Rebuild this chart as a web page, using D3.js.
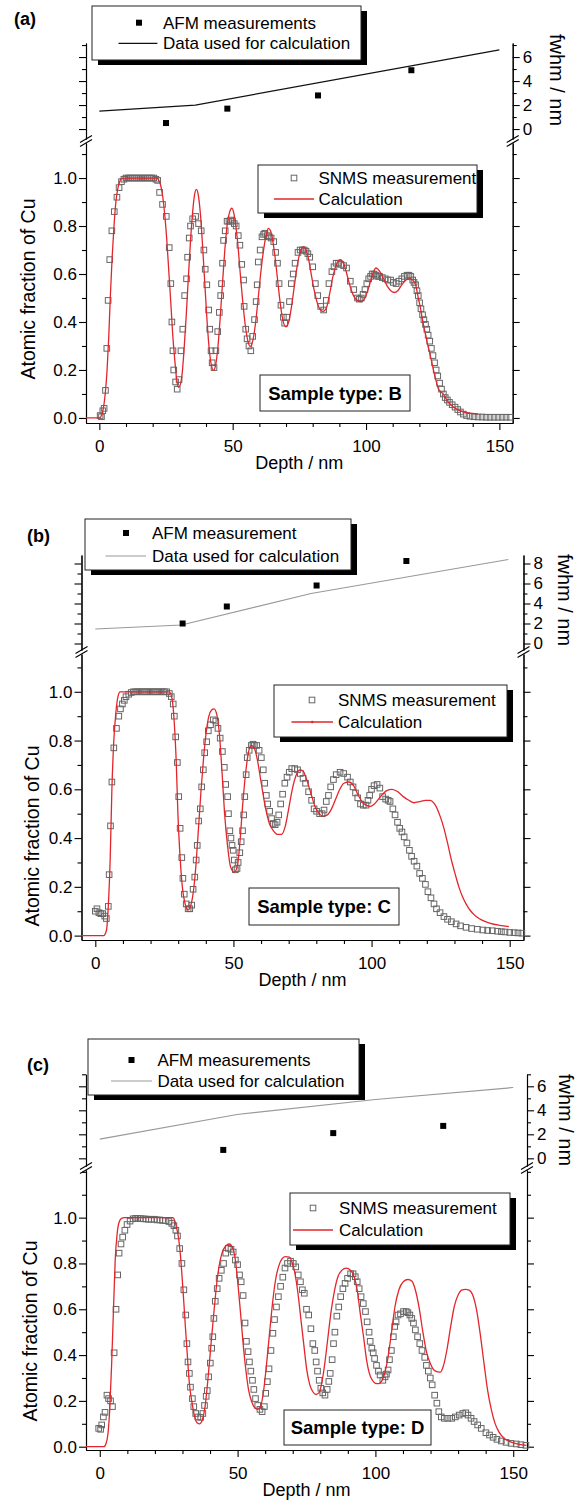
<!DOCTYPE html>
<html>
<head>
<meta charset="utf-8">
<script src="https://cdn.jsdelivr.net/npm/d3@7"></script>
<style>
  body { margin: 0; background: #fff; }
  svg { display: block; font-family: 'Liberation Sans', Arial, sans-serif; }
</style>
</head>
<body>
<script>
// ---- data ----
// depth (nm) vs atomic fraction, SNMS measured squares
const snmsA = [[0.3,0.01],[0.8,0.005],[1.3,0.03],[1.8,0.04],[2.3,0.115],[2.8,0.29],[3.3,0.49],[3.9,0.66],[4.7,0.78],[5.6,0.86],[6.6,0.92],[7.4,0.96],[8.3,0.985],[9.2,0.995],[10.0,1.0],[10.8,1.0],[11.6,1.0],[12.4,1.0],[13.2,1.0],[14.0,1.0],[14.8,1.0],[15.6,1.0],[16.4,1.0],[17.2,1.0],[18.0,1.0],[18.8,1.0],[19.6,1.0],[20.4,1.0],[21.2,0.995],[21.9,0.99],[22.6,0.94],[23.7,0.89],[25.1,0.84],[26.2,0.71],[26.8,0.56],[27.2,0.40],[27.6,0.28],[27.9,0.20],[28.6,0.15],[29.2,0.12],[29.9,0.16],[30.6,0.28],[31.3,0.37],[32.0,0.51],[32.7,0.58],[33.1,0.67],[33.7,0.75],[34.2,0.80],[35.0,0.83],[36.1,0.84],[37.2,0.81],[38.2,0.78],[39.2,0.70],[39.7,0.62],[40.3,0.555],[41.0,0.45],[41.4,0.37],[41.9,0.28],[42.3,0.23],[43.0,0.21],[43.7,0.28],[44.4,0.36],[45.0,0.44],[45.5,0.51],[45.8,0.56],[46.2,0.645],[46.6,0.74],[47.2,0.78],[47.9,0.82],[48.6,0.82],[49.3,0.825],[49.9,0.82],[50.6,0.81],[51.3,0.80],[52.1,0.76],[52.7,0.72],[53.4,0.64],[54.1,0.575],[54.3,0.465],[54.9,0.37],[55.4,0.33],[56.1,0.30],[56.8,0.28],[57.5,0.34],[58.2,0.41],[58.8,0.485],[59.2,0.555],[59.6,0.65],[60.3,0.70],[61.0,0.755],[61.6,0.765],[62.1,0.77],[63.0,0.76],[63.7,0.755],[64.4,0.75],[65.4,0.735],[66.1,0.69],[66.8,0.645],[67.4,0.56],[68.1,0.47],[69.0,0.42],[69.5,0.395],[70.3,0.42],[71.3,0.485],[72.0,0.56],[72.7,0.60],[73.4,0.645],[74.5,0.69],[75.3,0.70],[76.1,0.70],[76.8,0.70],[77.5,0.695],[78.2,0.685],[78.9,0.67],[80.0,0.63],[81.0,0.56],[81.9,0.51],[83.0,0.465],[84.1,0.45],[85.1,0.49],[86.1,0.56],[87.2,0.61],[88.0,0.63],[88.8,0.645],[89.7,0.645],[90.6,0.64],[91.6,0.635],[92.7,0.625],[94.1,0.57],[95.4,0.535],[96.8,0.50],[97.5,0.495],[98.2,0.50],[98.9,0.515],[99.6,0.535],[100.3,0.56],[101.0,0.58],[101.7,0.59],[102.3,0.60],[103.0,0.60],[103.7,0.595],[104.4,0.59],[105.1,0.59],[106.1,0.585],[107.2,0.58],[108.2,0.575],[109.2,0.575],[110.2,0.565],[111.3,0.56],[112.3,0.57],[113.4,0.58],[114.4,0.59],[115.4,0.595],[116.1,0.595],[116.8,0.59],[117.5,0.575],[118.0,0.565],[118.6,0.555],[119.1,0.53],[119.6,0.51],[120.1,0.48],[120.6,0.455],[121.2,0.43],[121.7,0.41],[122.3,0.39],[122.8,0.37],[123.3,0.345],[123.9,0.32],[124.5,0.29],[125.1,0.26],[125.7,0.23],[126.3,0.20],[126.9,0.175],[127.6,0.145],[128.3,0.12],[129.0,0.10],[129.7,0.085],[130.5,0.075],[131.3,0.065],[132.3,0.055],[133.4,0.045],[134.4,0.035],[135.4,0.025],[136.5,0.016],[137.7,0.010],[139.0,0.007],[140.5,0.005],[142.0,0.004],[143.5,0.004],[145.0,0.003],[146.5,0.003],[148.0,0.003],[149.5,0.003],[151.0,0.003],[152.5,0.003],[154.0,0.003]];

const calcA = [[-5,0],[0,0],[0.8,0.01],[1.5,0.04],[2.2,0.10],[2.9,0.20],[3.5,0.33],[4.1,0.50],[4.8,0.67],[5.5,0.80],[6.2,0.90],[7.0,0.96],[7.8,0.99],[8.6,1.0],[21.5,1.0],[22.3,0.99],[23.0,0.97],[23.8,0.92],[24.5,0.85],[25.3,0.74],[26.0,0.62],[26.8,0.48],[27.5,0.35],[28.3,0.24],[29.0,0.16],[29.7,0.128],[30.4,0.14],[31.1,0.19],[31.8,0.29],[32.6,0.43],[33.4,0.59],[34.2,0.74],[35.0,0.86],[35.7,0.93],[36.4,0.953],[37.1,0.93],[37.9,0.85],[38.7,0.72],[39.5,0.57],[40.3,0.42],[41.1,0.30],[42.0,0.22],[42.8,0.198],[43.6,0.22],[44.5,0.30],[45.4,0.43],[46.3,0.58],[47.2,0.72],[48.0,0.81],[48.9,0.86],[49.7,0.874],[50.5,0.85],[51.3,0.79],[52.2,0.69],[53.0,0.58],[53.9,0.47],[54.8,0.38],[55.7,0.32],[56.6,0.298],[57.5,0.32],[58.4,0.38],[59.3,0.47],[60.2,0.57],[61.1,0.66],[62.0,0.73],[62.7,0.77],[63.4,0.79],[64.2,0.78],[65.0,0.74],[65.9,0.67],[66.8,0.58],[67.7,0.49],[68.6,0.42],[69.9,0.38],[71.0,0.40],[72.0,0.46],[73.0,0.54],[74.0,0.62],[75.0,0.68],[75.8,0.705],[76.6,0.714],[77.5,0.70],[78.5,0.66],[79.6,0.59],[80.8,0.52],[82.0,0.47],[83.9,0.444],[85.2,0.46],[86.4,0.52],[87.6,0.59],[88.9,0.64],[90.3,0.66],[91.6,0.645],[92.8,0.60],[94.0,0.55],[95.3,0.51],[96.7,0.49],[98.2,0.485],[99.6,0.50],[100.9,0.54],[102.2,0.59],[103.7,0.625],[105.2,0.61],[106.6,0.58],[108.2,0.545],[109.5,0.528],[110.6,0.523],[111.9,0.53],[113.4,0.555],[115.0,0.575],[116.4,0.58],[117.5,0.575],[118.6,0.555],[119.6,0.50],[120.3,0.465],[121.0,0.42],[121.7,0.38],[122.4,0.345],[123.0,0.31],[123.7,0.28],[124.4,0.245],[125.1,0.21],[125.8,0.175],[126.5,0.145],[127.2,0.12],[128.9,0.10],[130.6,0.07],[132.3,0.05],[134.0,0.037],[136.0,0.027],[138.2,0.021],[142.0,0.017]];

const snmsB = [[0.0,0.10],[0.6,0.11],[1.3,0.094],[2.0,0.09],[2.7,0.09],[3.4,0.08],[4.0,0.07],[4.7,0.12],[5.0,0.25],[5.5,0.45],[6.0,0.63],[6.7,0.77],[7.65,0.85],[8.5,0.90],[9.1,0.93],[9.8,0.95],[10.5,0.965],[11.1,0.98],[12.1,0.99],[13.0,0.997],[13.8,1.0],[14.6,1.0],[15.4,1.0],[16.2,1.0],[17.0,1.0],[17.8,1.0],[18.6,1.0],[19.4,1.0],[20.2,1.0],[21.0,1.0],[21.8,1.0],[22.6,1.0],[23.4,1.0],[24.2,1.0],[25.0,1.0],[25.8,1.0],[26.8,0.993],[27.5,0.98],[28.2,0.95],[28.6,0.90],[29.1,0.815],[29.7,0.71],[30.2,0.57],[30.7,0.44],[31.3,0.32],[31.7,0.235],[32.2,0.17],[32.9,0.13],[33.6,0.11],[34.2,0.11],[34.9,0.125],[35.4,0.19],[36.0,0.24],[36.5,0.31],[36.9,0.37],[37.4,0.47],[38.0,0.52],[38.5,0.61],[39.1,0.68],[39.6,0.75],[40.3,0.795],[40.9,0.84],[41.7,0.865],[42.7,0.885],[43.6,0.88],[44.4,0.85],[45.2,0.81],[46.0,0.755],[46.7,0.69],[47.2,0.62],[47.9,0.57],[48.2,0.50],[48.7,0.43],[49.1,0.40],[49.5,0.37],[49.9,0.35],[50.3,0.31],[50.7,0.27],[51.3,0.275],[51.7,0.30],[52.3,0.34],[52.8,0.385],[53.3,0.43],[53.7,0.495],[54.1,0.57],[54.6,0.66],[55.0,0.73],[55.7,0.76],[56.5,0.78],[57.1,0.785],[57.6,0.78],[58.4,0.78],[59.3,0.76],[60.1,0.73],[60.8,0.68],[61.3,0.625],[61.9,0.575],[62.4,0.54],[63.1,0.51],[63.8,0.48],[64.4,0.46],[65.1,0.455],[65.8,0.465],[66.4,0.495],[67.1,0.54],[67.8,0.58],[68.6,0.625],[69.4,0.65],[70.2,0.67],[71.1,0.685],[72.2,0.685],[73.2,0.68],[74.2,0.665],[75.2,0.645],[76.1,0.625],[77.2,0.59],[78.3,0.555],[79.2,0.52],[80.1,0.51],[81.2,0.50],[82.1,0.50],[82.8,0.515],[83.6,0.55],[84.4,0.575],[85.2,0.61],[86.2,0.64],[87.2,0.66],[88.6,0.67],[89.9,0.665],[91.3,0.65],[92.3,0.63],[93.3,0.61],[94.2,0.585],[95.0,0.565],[96.0,0.54],[97.0,0.535],[98.0,0.535],[98.7,0.555],[99.3,0.575],[100.0,0.60],[100.9,0.615],[102.0,0.62],[103.0,0.605],[104.0,0.57],[105.1,0.56],[106.0,0.555],[106.7,0.55],[107.7,0.52],[108.5,0.495],[109.4,0.465],[110.2,0.44],[111.0,0.425],[111.8,0.405],[112.8,0.38],[113.7,0.35],[114.5,0.325],[115.4,0.305],[116.4,0.285],[117.4,0.255],[118.4,0.235],[119.5,0.21],[120.4,0.18],[121.5,0.155],[122.6,0.13],[123.5,0.11],[124.8,0.094],[126.2,0.078],[127.5,0.067],[128.9,0.057],[130.6,0.048],[132.2,0.040],[134.2,0.034],[136.2,0.029],[138.3,0.026],[140.3,0.023],[142.0,0.021],[143.7,0.020],[145.6,0.018],[147.0,0.016],[148.3,0.015],[150.0,0.013],[151.6,0.012],[153.0,0.011],[154.4,0.010]];

const calcB = [[-5,0],[3.0,0],[4.0,0.02],[4.7,0.12],[5.4,0.32],[6.0,0.60],[6.7,0.80],[7.4,0.91],[8.2,0.98],[9.0,1.0],[26.8,1.0],[27.8,0.97],[28.6,0.87],[29.3,0.71],[29.9,0.50],[30.7,0.32],[31.5,0.20],[32.5,0.13],[33.6,0.105],[34.6,0.125],[35.6,0.19],[36.5,0.30],[37.4,0.45],[38.3,0.60],[39.2,0.73],[40.1,0.83],[41.1,0.90],[42.1,0.925],[43.0,0.93],[44.0,0.905],[45.0,0.815],[45.9,0.665],[46.8,0.50],[47.9,0.365],[49.0,0.28],[50.3,0.26],[51.5,0.29],[52.4,0.39],[53.3,0.53],[54.4,0.665],[55.4,0.75],[56.5,0.78],[57.5,0.77],[58.5,0.73],[60.0,0.63],[61.5,0.53],[63.0,0.46],[64.5,0.43],[66.0,0.415],[67.4,0.415],[68.8,0.45],[70.0,0.52],[71.3,0.60],[72.6,0.655],[74.0,0.68],[75.2,0.675],[76.5,0.64],[78.0,0.585],[79.5,0.53],[81.0,0.50],[82.5,0.49],[84.0,0.495],[85.5,0.52],[87.0,0.56],[88.5,0.60],[90.0,0.625],[91.9,0.63],[93.5,0.615],[95.0,0.58],[96.5,0.55],[98.0,0.535],[99.5,0.53],[101.0,0.54],[102.5,0.56],[104.0,0.58],[105.5,0.595],[107.4,0.60],[109.5,0.59],[111.5,0.57],[113.5,0.555],[115.4,0.545],[117.5,0.55],[119.5,0.555],[121.2,0.555],[122.8,0.54],[124.8,0.49],[126.2,0.44],[127.5,0.38],[128.9,0.31],[130.2,0.255],[131.6,0.20],[132.9,0.16],[134.2,0.13],[135.6,0.105],[137.2,0.085],[138.9,0.07],[141.0,0.058],[143.0,0.05],[146.4,0.042],[149.7,0.037]];

const snmsC = [[-0.4,0.08],[0.3,0.076],[0.7,0.095],[1.3,0.13],[1.9,0.15],[2.6,0.225],[3.2,0.21],[3.9,0.20],[4.6,0.175],[5.2,0.41],[5.9,0.60],[6.5,0.75],[7.0,0.845],[7.7,0.885],[8.3,0.915],[9.1,0.945],[9.9,0.97],[11.0,0.985],[12.1,0.995],[13.0,0.997],[13.8,0.997],[14.7,0.996],[15.7,0.995],[16.7,0.994],[17.7,0.993],[18.7,0.993],[19.8,0.993],[20.8,0.99],[21.8,0.99],[22.8,0.988],[23.8,0.987],[25.1,0.983],[26.1,0.975],[26.9,0.965],[27.6,0.945],[28.2,0.92],[29.0,0.865],[29.8,0.80],[30.5,0.685],[31.2,0.575],[31.6,0.45],[32.0,0.37],[32.5,0.32],[32.9,0.26],[33.6,0.21],[34.1,0.175],[34.8,0.145],[35.6,0.13],[36.6,0.128],[37.4,0.145],[38.0,0.18],[38.6,0.22],[39.0,0.245],[39.5,0.305],[40.1,0.365],[40.6,0.43],[41.0,0.48],[41.4,0.56],[41.9,0.635],[42.6,0.69],[43.3,0.735],[44.1,0.77],[44.9,0.80],[45.7,0.845],[46.6,0.866],[47.6,0.862],[48.4,0.85],[49.2,0.815],[50.0,0.795],[50.7,0.75],[51.3,0.72],[52.0,0.66],[52.7,0.54],[53.2,0.46],[53.8,0.415],[54.3,0.37],[54.8,0.33],[55.4,0.29],[55.9,0.25],[56.5,0.21],[57.3,0.18],[58.1,0.163],[58.9,0.153],[59.7,0.175],[60.2,0.233],[60.8,0.284],[61.4,0.34],[62.1,0.42],[62.8,0.495],[63.4,0.555],[64.1,0.61],[64.8,0.655],[65.6,0.70],[66.4,0.74],[67.2,0.78],[68.1,0.80],[69.2,0.81],[70.2,0.80],[71.1,0.785],[72.0,0.75],[72.8,0.72],[73.5,0.685],[74.2,0.67],[75.0,0.60],[75.8,0.575],[76.6,0.515],[77.3,0.45],[78.0,0.42],[78.5,0.37],[79.0,0.33],[79.6,0.29],[80.2,0.255],[80.9,0.235],[81.7,0.225],[82.5,0.25],[83.1,0.285],[83.6,0.32],[84.3,0.38],[84.8,0.45],[85.3,0.50],[86.0,0.57],[86.7,0.61],[87.4,0.655],[88.2,0.69],[89.0,0.713],[89.9,0.735],[91.0,0.755],[91.9,0.755],[92.7,0.742],[93.4,0.72],[94.1,0.69],[94.8,0.655],[95.6,0.625],[96.4,0.59],[97.0,0.545],[97.7,0.50],[98.1,0.46],[98.7,0.43],[99.2,0.41],[99.7,0.385],[100.4,0.355],[101.1,0.33],[101.7,0.313],[102.7,0.29],[103.5,0.305],[104.0,0.317],[104.6,0.335],[105.1,0.38],[105.8,0.42],[106.5,0.48],[107.0,0.525],[107.5,0.545],[108.2,0.575],[109.1,0.58],[110.2,0.59],[111.2,0.59],[111.8,0.585],[112.5,0.575],[113.2,0.56],[113.8,0.54],[114.5,0.51],[115.3,0.48],[116.1,0.45],[116.9,0.42],[117.9,0.39],[118.5,0.355],[119.2,0.33],[119.9,0.30],[120.6,0.27],[121.5,0.225],[122.3,0.19],[123.0,0.153],[123.9,0.13],[125.0,0.124],[126.3,0.124],[127.7,0.124],[129.0,0.13],[130.4,0.138],[131.7,0.145],[132.8,0.148],[133.6,0.138],[134.7,0.124],[135.8,0.11],[137.1,0.095],[138.4,0.08],[140.1,0.061],[141.4,0.051],[142.7,0.041],[144.1,0.032],[145.7,0.025],[147.4,0.019],[149.2,0.0146],[151.1,0.012],[152.8,0.0087],[154.6,0.006]];

const calcC = [[-5,0],[1.5,0],[2.3,0.015],[3.0,0.06],[3.6,0.16],[4.3,0.36],[5.0,0.61],[5.6,0.815],[6.3,0.93],[7.0,0.98],[7.9,0.997],[9.0,1.0],[26.5,1.0],[27.2,0.987],[27.8,0.96],[28.5,0.917],[29.3,0.83],[30.1,0.70],[30.9,0.553],[31.7,0.41],[32.5,0.277],[33.5,0.19],[34.4,0.131],[35.3,0.105],[36.3,0.10],[37.2,0.117],[38.2,0.175],[39.2,0.29],[40.3,0.44],[41.5,0.60],[42.6,0.73],[43.7,0.815],[44.8,0.86],[46.0,0.88],[47.0,0.885],[48.1,0.87],[49.2,0.815],[50.1,0.713],[51.1,0.58],[52.0,0.45],[53.0,0.335],[54.0,0.247],[55.1,0.197],[56.2,0.17],[57.3,0.163],[58.3,0.175],[59.4,0.24],[60.5,0.36],[61.7,0.51],[62.8,0.64],[63.8,0.73],[65.1,0.795],[66.1,0.82],[67.2,0.83],[68.8,0.828],[69.9,0.80],[70.8,0.757],[71.9,0.67],[73.0,0.553],[74.1,0.437],[75.1,0.335],[76.2,0.27],[77.3,0.24],[78.4,0.228],[79.5,0.235],[80.4,0.27],[81.6,0.36],[82.8,0.48],[84.0,0.597],[85.2,0.684],[86.4,0.742],[87.8,0.77],[89.4,0.78],[91.0,0.77],[92.3,0.742],[93.4,0.684],[94.5,0.582],[95.7,0.48],[96.8,0.378],[97.8,0.32],[98.9,0.29],[100.0,0.277],[101.2,0.275],[102.2,0.285],[103.1,0.31],[104.4,0.378],[105.8,0.495],[107.1,0.611],[108.5,0.684],[110.1,0.72],[111.8,0.73],[113.2,0.723],[114.5,0.684],[115.9,0.604],[117.2,0.502],[118.5,0.415],[119.9,0.364],[121.2,0.335],[122.6,0.327],[123.6,0.326],[124.6,0.35],[125.9,0.42],[127.3,0.524],[128.6,0.611],[130.0,0.662],[131.3,0.684],[132.7,0.687],[134.0,0.684],[135.3,0.662],[136.7,0.597],[138.0,0.495],[139.4,0.364],[140.7,0.247],[142.1,0.16],[143.4,0.102],[144.8,0.065],[146.8,0.036],[149.5,0.019],[152.2,0.01],[154.8,0.006]];

// top strips: AFM roughness points and the fwhm used for the calculation
const afmA = [[25, 0.5], [48, 1.7], [82, 2.8], [117, 4.9]];
const fwhmA = [[0, 1.5], [36, 2.0], [150, 6.6]];
const afmB = [[31.6, 2.0], [47.6, 3.7], [80.1, 5.8], [112.6, 8.25]];
const fwhmB = [[0, 1.45], [31.2, 1.85], [78.1, 5.0], [149.5, 8.4]];
const afmC = [[44.8, 0.7], [84.7, 2.1], [124.6, 2.7]];
const fwhmC = [[0, 1.6], [49.8, 3.65], [100, 4.9], [150, 5.9]];

// tick labels
const depthTicks = [0, 50, 100, 150];
const depthMinor = [10, 20, 30, 40, 60, 70, 80, 90, 110, 120, 130, 140];
const fracTicks = [0, 0.2, 0.4, 0.6, 0.8, 1.0];
const fracMinorAB = [0.1, 0.3, 0.5, 0.7, 0.9, 1.1];
const fracMinorC = [0.1, 0.3, 0.5, 0.7, 0.9, 1.1, 1.2];

// ---- layout (pixels) ----
const panels = [
  { label: '(a)', labelPos: [14, 25], snms: snmsA, calc: calcA, afm: afmA, fwhm: fwhmA,
    afmText: 'AFM measurements', sample: 'Sample type: B', fwhmColor: '#111', calcDot: false,
    L: 86, R: 512.7,
    top: { dom: [-0.83, 7.17], rng: [139, 43], major: [0, 2, 4, 6], minor: [1, 3, 5, 7] },
    main: { dom: [-0.021, 1.146], rng: [423, 143], minor: fracMinorAB },
    topLeg: { x: 92, y: 6, w: 269, h: 54, mx: 139, tx: 163, r1: 22.7, r2: 43.3, lx1: 118.5, lx2: 157.4 },
    mainLeg: { x: 258, y: 165, w: 219, h: 48, mx: 294, tx: 318.5, r1: 178, r2: 199, lx1: 274, lx2: 314 },
    box: { x: 260, y: 375, w: 150, h: 36 },
    fwhmTitle: [550, 80], yTitle: [35, 289] },
  { label: '(b)', labelPos: [27, 542], snms: snmsB, calc: calcB, afm: afmB, fwhm: fwhmB,
    afmText: 'AFM measurement', sample: 'Sample type: C', fwhmColor: '#999', calcDot: true,
    L: 81.5, R: 523.5,
    top: { dom: [-0.65, 8.85], rng: [650, 555], major: [0, 2, 4, 6, 8], minor: [1, 3, 5, 7] },
    main: { dom: [-0.018, 1.155], rng: [940, 654], minor: fracMinorAB },
    topLeg: { x: 85, y: 519, w: 266, h: 51, mx: 126, tx: 152, r1: 533, r2: 556, lx1: 105.5, lx2: 146 },
    mainLeg: { x: 274, y: 685, w: 233, h: 52, mx: 312, tx: 338, r1: 700, r2: 722, lx1: 291.5, lx2: 333 },
    box: { x: 249, y: 888, w: 150, h: 37 },
    fwhmTitle: [558, 600], yTitle: [39, 836] },
  { label: '(c)', labelPos: [27, 1071], snms: snmsC, calc: calcC, afm: afmC, fwhm: fwhmC,
    afmText: 'AFM measurements', sample: 'Sample type: D', fwhmColor: '#999', calcDot: false,
    L: 86, R: 527,
    top: { dom: [-0.64, 7.0], rng: [1166, 1074.3], major: [0, 2, 4, 6], minor: [1, 3, 5, 7] },
    main: { dom: [-0.0144, 1.208], rng: [1450, 1170], minor: fracMinorC },
    topLeg: { x: 88, y: 1039, w: 271, h: 56, mx: 131.5, tx: 157.4, r1: 1060, r2: 1081, lx1: 111, lx2: 152 },
    mainLeg: { x: 290, y: 1193, w: 220, h: 52, mx: 313, tx: 339, r1: 1208, r2: 1230, lx1: 293, lx2: 333 },
    box: { x: 284, y: 1410, w: 147, h: 35 },
    fwhmTitle: [559, 1120], yTitle: [37, 1331] }
];

const red = '#e3262b';
const sq = 5.6;
const sqColor = '#666';

const svg = d3.select('body').append('svg')
  .attr('width', 581)
  .attr('height', 1504);

svg.append('rect').attr('width', 581).attr('height', 1504).attr('fill', '#fff');

panels.forEach(drawPanel);

// small helper for styling an axis group
function styleAxis(g, size) {
  g.attr('font-family', null).attr('font-size', size);
  g.selectAll('path.domain').attr('stroke', '#000').attr('stroke-width', 1.1);
  g.selectAll('.tick line').attr('stroke', '#000').attr('stroke-width', 1.1);
  g.selectAll('.tick text').attr('fill', '#000');
}

function drawPanel(p) {
  const g = svg.append('g');

  const x = d3.scaleLinear().domain([-5, 155]).range([p.L, p.R]);
  const yTop = d3.scaleLinear().domain(p.top.dom).range(p.top.rng);
  const y = d3.scaleLinear().domain(p.main.dom).range(p.main.rng);

  // ---- axes of the fwhm strip ----
  g.append('g').attr('transform', `translate(${p.L},0)`)
    .call(d3.axisLeft(yTop).tickValues(p.top.major).tickSize(7).tickSizeOuter(0).tickFormat(''))
    .call(styleAxis, 17);
  g.append('g').attr('transform', `translate(${p.L},0)`)
    .call(d3.axisLeft(yTop).tickValues(p.top.minor).tickSize(4).tickSizeOuter(0).tickFormat(''))
    .call(styleAxis, 17);
  g.append('g').attr('transform', `translate(${p.R},0)`)
    .call(d3.axisRight(yTop).tickValues(p.top.major).tickSize(7).tickSizeOuter(0).tickPadding(3))
    .call(styleAxis, 17);
  g.append('g').attr('transform', `translate(${p.R},0)`)
    .call(d3.axisRight(yTop).tickValues(p.top.minor).tickSize(4).tickSizeOuter(0).tickFormat(''))
    .call(styleAxis, 17);

  // ---- axes of the main plot ----
  g.append('g').attr('transform', `translate(${p.L},0)`)
    .call(d3.axisLeft(y).tickValues(fracTicks).tickSize(7).tickSizeOuter(0).tickPadding(2).tickFormat(d3.format('.1f')))
    .call(styleAxis, 17);
  g.append('g').attr('transform', `translate(${p.L},0)`)
    .call(d3.axisLeft(y).tickValues(p.main.minor).tickSize(4).tickSizeOuter(0).tickFormat(''))
    .call(styleAxis, 17);
  g.append('g').attr('transform', `translate(${p.R},0)`)
    .call(d3.axisRight(y).tickValues(fracTicks).tickSize(7).tickSizeOuter(0).tickFormat(''))
    .call(styleAxis, 17);
  g.append('g').attr('transform', `translate(${p.R},0)`)
    .call(d3.axisRight(y).tickValues(p.main.minor).tickSize(4).tickSizeOuter(0).tickFormat(''))
    .call(styleAxis, 17);

  const yAxis0 = p.main.rng[0];
  g.append('g').attr('transform', `translate(0,${yAxis0})`)
    .call(d3.axisBottom(x).tickValues(depthTicks).tickSize(7).tickSizeOuter(0).tickPadding(10))
    .call(styleAxis, 17);
  g.append('g').attr('transform', `translate(0,${yAxis0})`)
    .call(d3.axisBottom(x).tickValues(depthMinor).tickSize(4).tickSizeOuter(0).tickFormat(''))
    .call(styleAxis, 17);

  // axis break marks "//" on both sides
  const breaks = [p.top.rng[0], p.main.rng[1]];
  [p.L, p.R].forEach(ax => {
    breaks.forEach(by => {
      g.append('line')
        .attr('x1', ax - 6).attr('y1', by + 3.5)
        .attr('x2', ax + 6).attr('y2', by - 3.5)
        .attr('stroke', '#000').attr('stroke-width', 1.1);
    });
  });

  // ---- fwhm strip marks ----
  g.append('path')
    .datum(p.fwhm)
    .attr('fill', 'none')
    .attr('stroke', p.fwhmColor)
    .attr('stroke-width', 1.2)
    .attr('d', d3.line().x(d => x(d[0])).y(d => yTop(d[1])));

  g.selectAll('.afm')
    .data(p.afm)
    .enter().append('rect')
      .attr('class', 'afm')
      .attr('x', d => x(d[0]) - 3)
      .attr('y', d => yTop(d[1]) - 3)
      .attr('width', 6).attr('height', 6)
      .attr('fill', '#000');

  // ---- main plot: SNMS squares then calculation line ----
  g.selectAll('.snms')
    .data(p.snms)
    .enter().append('rect')
      .attr('class', 'snms')
      .attr('x', d => x(d[0]) - sq / 2)
      .attr('y', d => y(d[1]) - sq / 2)
      .attr('width', sq).attr('height', sq)
      .attr('fill', 'none')
      .attr('stroke', sqColor)
      .attr('stroke-width', 1);

  g.append('path')
    .datum(p.calc)
    .attr('fill', 'none')
    .attr('stroke', red)
    .attr('stroke-width', 1.3)
    .attr('d', d3.line().curve(d3.curveMonotoneX).x(d => x(d[0])).y(d => y(d[1])));

  // ---- legends ----
  drawLegendBox(g, p.topLeg);
  g.append('rect')
    .attr('x', p.topLeg.mx - 3).attr('y', p.topLeg.r1 - 3)
    .attr('width', 6).attr('height', 6).attr('fill', '#000');
  g.append('line')
    .attr('x1', p.topLeg.lx1).attr('x2', p.topLeg.lx2)
    .attr('y1', p.topLeg.r2).attr('y2', p.topLeg.r2)
    .attr('stroke', p.fwhmColor).attr('stroke-width', 1.2);
  legendText(g, p.topLeg.tx, p.topLeg.r1, p.afmText);
  legendText(g, p.topLeg.tx, p.topLeg.r2, 'Data used for calculation');

  drawLegendBox(g, p.mainLeg);
  g.append('rect')
    .attr('x', p.mainLeg.mx - sq / 2).attr('y', p.mainLeg.r1 - sq / 2)
    .attr('width', sq).attr('height', sq)
    .attr('fill', 'none').attr('stroke', sqColor).attr('stroke-width', 1);
  g.append('line')
    .attr('x1', p.mainLeg.lx1).attr('x2', p.mainLeg.lx2)
    .attr('y1', p.mainLeg.r2).attr('y2', p.mainLeg.r2)
    .attr('stroke', red).attr('stroke-width', 1.3);
  if (p.calcDot) {
    g.append('circle')
      .attr('cx', (p.mainLeg.lx1 + p.mainLeg.lx2) / 2).attr('cy', p.mainLeg.r2)
      .attr('r', 1.3).attr('fill', red);
  }
  legendText(g, p.mainLeg.tx, p.mainLeg.r1, 'SNMS measurement');
  legendText(g, p.mainLeg.tx, p.mainLeg.r2, 'Calculation');

  // sample type box
  g.append('rect')
    .attr('x', p.box.x).attr('y', p.box.y)
    .attr('width', p.box.w).attr('height', p.box.h)
    .attr('fill', '#fff').attr('stroke', '#222').attr('stroke-width', 1);
  g.append('text')
    .attr('x', p.box.x + p.box.w / 2)
    .attr('y', p.box.y + p.box.h / 2 + 6.5)
    .attr('text-anchor', 'middle')
    .attr('font-size', 18.5)
    .attr('font-weight', 'bold')
    .text(p.sample);

  // ---- titles ----
  g.append('text')
    .attr('x', p.labelPos[0]).attr('y', p.labelPos[1])
    .attr('font-size', 18).attr('font-weight', 'bold')
    .text(p.label);

  g.append('text')
    .attr('transform', `translate(${p.fwhmTitle[0]},${p.fwhmTitle[1]}) rotate(90)`)
    .attr('text-anchor', 'middle')
    .attr('font-size', 20)
    .text('fwhm / nm');

  g.append('text')
    .attr('transform', `translate(${p.yTitle[0]},${p.yTitle[1]}) rotate(-90)`)
    .attr('text-anchor', 'middle')
    .attr('font-size', 19.5)
    .text('Atomic fraction of Cu');

  g.append('text')
    .attr('x', (p.L + p.R) / 2)
    .attr('y', yAxis0 + 46)
    .attr('text-anchor', 'middle')
    .attr('font-size', 18)
    .text('Depth / nm');
}

// legend frame with the black drop shadow
function drawLegendBox(g, b) {
  g.append('rect')
    .attr('x', b.x + 6).attr('y', b.y + 5)
    .attr('width', b.w).attr('height', b.h)
    .attr('fill', '#000');
  g.append('rect')
    .attr('x', b.x).attr('y', b.y)
    .attr('width', b.w).attr('height', b.h)
    .attr('fill', '#fff').attr('stroke', '#222').attr('stroke-width', 1);
}

function legendText(g, tx, ty, label) {
  g.append('text')
    .attr('x', tx).attr('y', ty + 6)
    .attr('font-size', 17)
    .text(label);
}
</script>
</body>
</html>
